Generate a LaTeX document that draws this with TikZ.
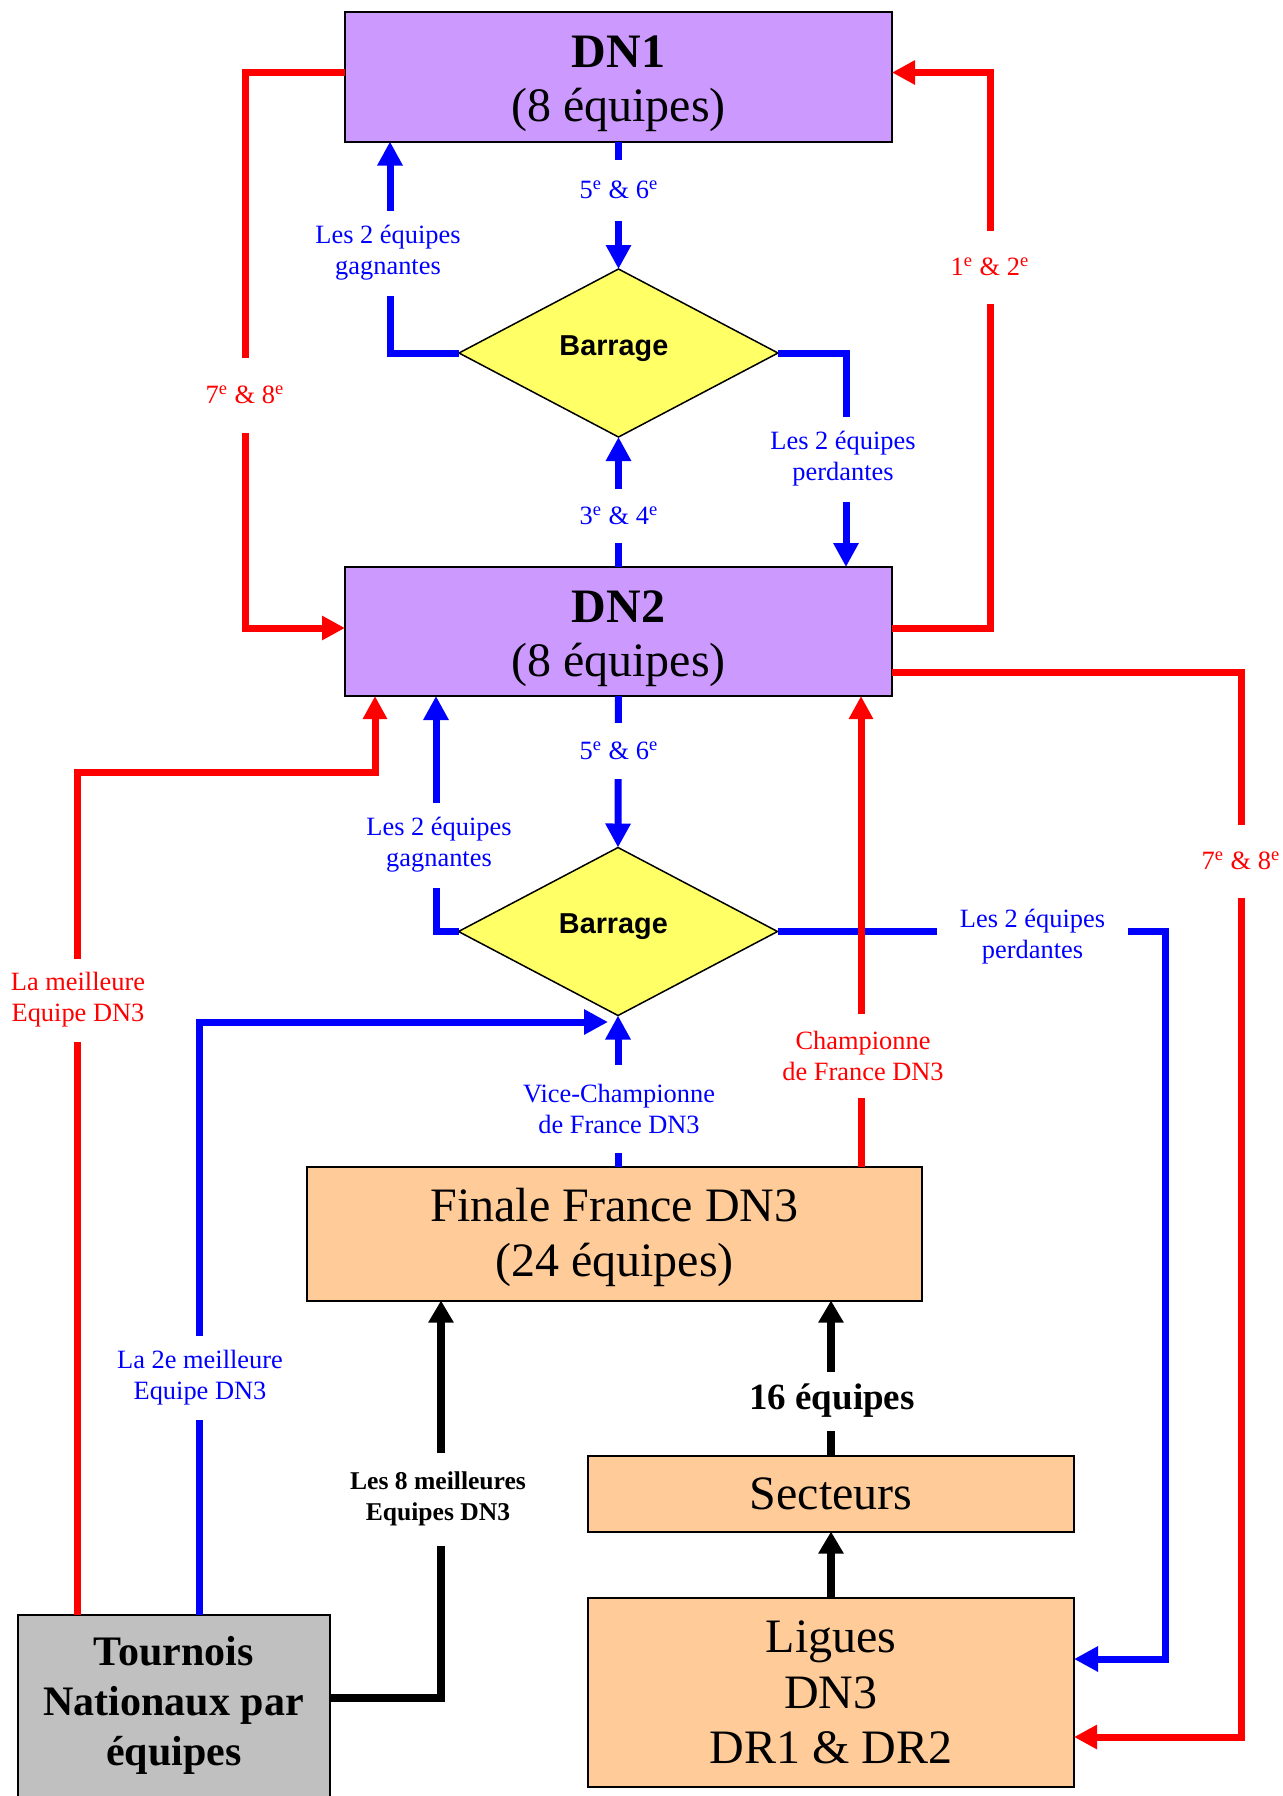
\documentclass[tikz,border=0pt]{standalone}
\usepackage{fontspec}
\setmainfont{Liberation Serif}
\newfontfamily\arialf{Liberation Sans}
\usetikzlibrary{shapes.geometric,arrows.meta,calc}
\definecolor{dnpurple}{HTML}{CC99FF}
\definecolor{barryellow}{HTML}{FFFF66}
\definecolor{peach}{HTML}{FFCC99}
\definecolor{grayb}{HTML}{C0C0C0}
\definecolor{rouge}{HTML}{FF0000}
\definecolor{bleu}{HTML}{0000FF}
\newcommand{\barragetext}{\kern4.6pt\rule[-7.6pt]{0pt}{7.6pt}Barrage\kern-0pt}
\begin{document}
\begin{tikzpicture}[x=0.5pt,y=-0.5pt,
  box/.style={draw=black, line width=1pt, rectangle, inner sep=0pt, outer sep=0pt, align=center},
  bigtext/.style={font=\fontsize{24}{27}\selectfont},
  barrage/.style={diamond, draw=black, line width=0.75pt, fill=barryellow, inner sep=0pt, outer sep=0pt,
     minimum width=159.5pt, minimum height=84pt, font=\arialf\bfseries\fontsize{14.4}{17}\selectfont},
  rl/.style={draw=rouge, line width=3.5pt, line join=miter, -{Triangle[length=11.5pt,width=11.5pt]}},
  bl/.style={draw=bleu, line width=3.5pt, line join=miter, -{Triangle[length=12pt,width=12pt]}},
  kl/.style={draw=black, line width=4pt, line join=miter, -{Triangle[length=11pt,width=12pt]}},
  lab/.style={fill=white, inner xsep=1pt, inner ysep=0pt, align=center, font=\fontsize{13.2}{15.5}\selectfont},
  blab/.style={lab, text=bleu},
  rlab/.style={lab, text=rouge},
  klab/.style={lab, text=black}
]
\clip (0,0) rectangle (1282,1796);
\useasboundingbox (0,0) rectangle (1282,1796);

% boxes
\node[box, fill=dnpurple, bigtext, minimum width=273.5pt, minimum height=65pt] (dn1) at (618.5,76.5)
  {\rule{0pt}{23pt}\textbf{DN1}\\(8 équipes)};
\node[box, fill=dnpurple, bigtext, minimum width=273.5pt, minimum height=64.5pt] (dn2) at (618.5,631.5)
  {\rule{0pt}{23pt}\textbf{DN2}\\(8 équipes)};
\node[barrage] (bar1) at (618.5,353) {Barrage\kern4.6pt\rule[-7.6pt]{0pt}{7.6pt}};
\node[barrage] (bar2) at (618,931.5) {Barrage\kern4.6pt\rule[-7.6pt]{0pt}{7.6pt}};
\node[box, fill=peach, font=\fontsize{24}{27.5}\selectfont, minimum width=307.5pt, minimum height=67pt] (finale) at (614.5,1233.5)
  {\rule{0pt}{21pt}Finale France DN3\\(24 équipes)};
\node[box, fill=peach, bigtext, minimum width=243pt, minimum height=37.75pt] (secteurs) at (831,1493.75)
  {Secteurs};
\node[box, fill=peach, font=\fontsize{24}{27.8}\selectfont, minimum width=243pt, minimum height=94.5pt] (ligues) at (831,1692.5)
  {Ligues\\DN3\\DR1 \& DR2};
\node[box, fill=grayb, minimum width=155.75pt, minimum height=107.5pt] (tournois) at (173.75,1722.5) {};
\node[font=\bfseries\fontsize{21}{25}\selectfont, align=center] (tournoisT) at (173.75,1705)
  {Tournois\\Nationaux par\\équipes};

% coordinates
\coordinate (rm) at (375,772);
\coordinate (b2) at (608,1022);

% blue connectors
\draw[bl] (dn1.south) -- (bar1.north);
\draw[bl] (bar1.west) -| ([xshift=22.5pt]dn1.south west);
\draw[bl] (bar1.east) -| ([xshift=-23pt]dn2.north east);
\draw[bl] (dn2.north) -- (bar1.south);
\draw[bl] (dn2.south) -- (bar2.north);
\draw[bl] (bar2.west) -| ([xshift=45.5pt]dn2.south west);
\draw[bl] (bar2.east) -| ([xshift=45.5pt,yshift=16.75pt]ligues.east) -- ([yshift=16.75pt]ligues.east);
\draw[bl] (bar2.south |- finale.north) -- (bar2.south);
\draw[bl] ([xshift=13.1pt]tournois.north) |- (b2);

% red connectors
\draw[rl] ([yshift=2pt]dn1.west) -| ([xshift=-50pt,yshift=1.75pt]dn2.west) -- ([yshift=1.75pt]dn2.west);
\draw[rl] ([yshift=1.75pt]dn2.east) -| ([xshift=49pt,yshift=2pt]dn1.east) -- ([yshift=2pt]dn1.east);
\draw[rl] ([yshift=-20.5pt]dn2.east) -| ([xshift=83.5pt,yshift=-22.25pt]ligues.east) -- ([yshift=-22.25pt]ligues.east);
\draw[rl] ([xshift=-30.5pt]finale.north east) -- ([xshift=-30.5pt]finale.north east |- dn2.south);
\draw[rl] ([xshift=-47.9pt]tournois.north) |- (rm) -- (rm |- dn2.south);

% black connectors
\draw[kl] ([yshift=12.25pt]tournois.east) -| ([xshift=67pt]finale.south west);
\draw[kl] (secteurs.north) -- (secteurs.north |- finale.south);
\draw[kl] (ligues.north) -- (secteurs.south);

% labels
\node[blab, minimum height=30.5pt] (l56a) at (619,190) {5\textsuperscript{e} \& 6\textsuperscript{e}};
\node[blab, minimum height=42.5pt] (lgag1) at (388,253) {Les 2 équipes\\gagnantes};
\node[blab, minimum height=42.5pt] (lperd1) at (843,459) {Les 2 équipes\\perdantes};
\node[blab, minimum height=27pt] (l34) at (619,516) {3\textsuperscript{e} \& 4\textsuperscript{e}};
\node[rlab, minimum height=36.5pt] (l12) at (990,267) {1\textsuperscript{e} \& 2\textsuperscript{e}};
\node[rlab, minimum height=37.5pt] (l78a) at (245,395) {7\textsuperscript{e} \& 8\textsuperscript{e}};
\node[blab, minimum height=28pt] (l56b) at (619,751) {5\textsuperscript{e} \& 6\textsuperscript{e}};
\node[blab, minimum height=42.5pt] (lgag2) at (439,845) {Les 2 équipes\\gagnantes};
\node[blab, minimum width=95.5pt] (lperd2) at (1032.5,937) {Les 2 équipes\\perdantes};
\node[rlab, minimum height=36.5pt] (l78b) at (1241,861) {7\textsuperscript{e} \& 8\textsuperscript{e}};
\node[rlab, minimum height=42pt] (lchamp) at (863,1056) {Championne\\de France DN3};
\node[blab, minimum height=44pt] (lvice) at (619,1109) {Vice-Championne\\de France DN3};
\node[rlab, minimum height=41.5pt] (lmeil) at (78,1000) {La meilleure\\Equipe DN3};
\node[blab, minimum height=42pt] (l2e) at (200,1378) {La 2e meilleure\\Equipe DN3};
\node[klab, font=\bfseries\fontsize{12.8}{15.5}\selectfont, minimum height=46.5pt] (l8) at (438,1499) {Les 8 meilleures\\Equipes DN3};
\node[klab, font=\bfseries\fontsize{18.5}{21}\selectfont, minimum height=29.5pt] (l16) at (832,1401) {16 équipes};
\end{tikzpicture}
\end{document}
